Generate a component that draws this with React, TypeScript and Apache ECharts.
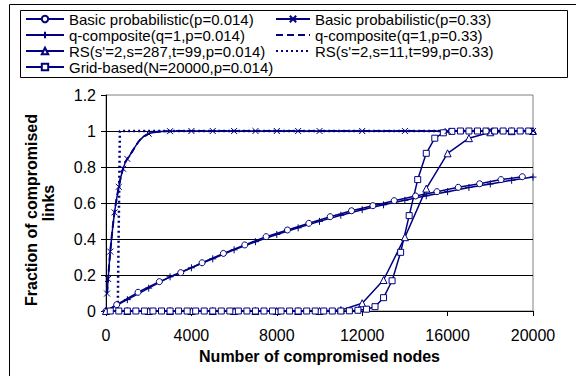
import React, { useEffect, useRef } from "react";
import * as echarts from "echarts";

const NAVY = "#000080";
const FONT = "'Liberation Sans', Arial, Helvetica, sans-serif";

const seriesNames = [
  "Basic probabilistic(p=0.014)",
  "q-composite(q=1,p=0.014)",
  "RS(s'=2,s=287,t=99,p=0.014)",
  "Grid-based(N=20000,p=0.014)",
  "Basic probabilistic(p=0.33)",
  "q-composite(q=1,p=0.33)",
  "RS(s'=2,s=11,t=99,p=0.33)",
];

const xTitle = "Number of compromised nodes";
const yTitleLines = ["Fraction of compromised", "links"];

// Basic probabilistic (p=0.014), circle markers
const basicLowX = [0, 500, 1500, 2500, 3500, 4500, 5500, 6500, 7500, 8500, 9500, 10500, 11500, 12500, 13500, 14500, 15500, 16500, 17500, 18500, 19500];
const basicLowY = [0, 0.035, 0.104, 0.163, 0.213, 0.268, 0.32, 0.367, 0.413, 0.45, 0.487, 0.524, 0.557, 0.585, 0.613, 0.639, 0.663, 0.687, 0.707, 0.73, 0.746];

// q-composite (q=1, p=0.014), plus markers
const qLowX = [0, 1000, 2000, 3000, 4000, 5000, 6000, 7000, 8000, 9000, 10000, 11000, 12000, 13000, 14000, 15000, 16000, 17000, 18000, 19000, 20000];
const qLowY = [0, 0.063, 0.127, 0.19, 0.24, 0.29, 0.34, 0.385, 0.425, 0.462, 0.498, 0.532, 0.563, 0.59, 0.615, 0.64, 0.663, 0.686, 0.706, 0.726, 0.744];

// RS (s'=2, s=287, t=99, p=0.014), triangle markers
const rsLowX = [0, 1000, 2000, 3000, 4000, 5000, 6000, 7000, 8000, 9000, 10000, 11000, 12000, 13000, 14000, 15000, 16000, 17000, 18000, 19000, 20000];
const rsLowY = [0, 0, 0, 0, 0, 0, 0, 0, 0, 0, 0, 0.005, 0.043, 0.172, 0.41, 0.68, 0.876, 0.96, 0.993, 0.999, 1];

// Grid-based (N=20000, p=0.014), square markers
const gridX = [200, 600, 1000, 1400, 1800, 2200, 2600, 3000, 3400, 3800, 4200, 4600, 5000, 5400, 5800, 6200, 6600, 7000, 7400, 7800, 8200, 8600, 9000, 9400, 9800, 10200, 10600, 11000, 11400, 11800, 12200, 12600, 13000, 13400, 13800, 14200, 14600, 15000, 15400, 15800, 16200, 16600, 17000, 17400, 17800, 18200, 18600, 19000, 19400, 19800];
const gridY = [0, 0, 0, 0, 0, 0, 0, 0, 0, 0, 0, 0, 0, 0, 0, 0, 0, 0, 0, 0, 0, 0, 0, 0, 0, 0, 0, 0, 0.001, 0.004, 0.01, 0.024, 0.074, 0.168, 0.326, 0.53, 0.73, 0.876, 0.96, 0.99, 0.998, 1, 1, 1, 1, 1, 1, 1, 1, 1];

// Basic probabilistic (p=0.33), x markers
const basicHighX = [50, 100, 200, 400, 600, 800, 1000, 2000, 3000, 4000, 5000, 6000, 7000, 8000, 9000, 10000, 12000, 14000, 16000, 18000, 20000];
const basicHighY = [0.097, 0.178, 0.33, 0.548, 0.69, 0.79, 0.845, 0.985, 0.999, 1, 1, 1, 1, 1, 1, 1, 1, 1, 1, 1, 1];

// q-composite (q=1, p=0.33), dashed, no markers
const qHighX = [50, 100, 200, 400, 600, 800, 1000, 2000, 3000, 4000, 5000, 6000, 7000, 8000, 9000, 10000, 12000, 14000, 16000, 18000, 20000];
const qHighY = [0.097, 0.178, 0.33, 0.548, 0.69, 0.79, 0.845, 0.985, 0.999, 1, 1, 1, 1, 1, 1, 1, 1, 1, 1, 1, 1];

// RS (s'=2, s=11, t=99, p=0.33), dotted, no markers
const rsHighX = [0, 550, 650, 20000];
const rsHighY = [0, 0, 1, 1];

const zip = (xs: number[], ys: number[]) => xs.map((x, i) => [x, ys[i]]);

const X_SYM = "path://M0 0L10 10M10 0L0 10";
const PLUS_SYM = "path://M5 0L5 10M0 5L10 5";

function markerSeries(name: string, data: number[][], symbol: string, size: number, smooth: number | boolean = false) {
  return {
    name,
    type: "line",
    data,
    symbol,
    symbolSize: size,
    showAllSymbol: true,
    smooth,
    silent: true,
    lineStyle: { color: NAVY, width: 1.5 },
    itemStyle: { color: "#ffffff", borderColor: NAVY, borderWidth: 1 },
  };
}

const noSymbolLegend = (name: string) => ({
  name,
  itemStyle: { color: "rgba(0,0,0,0)", borderColor: "rgba(0,0,0,0)", borderWidth: 0, opacity: 0 },
});

export default function App() {
  const ref = useRef<HTMLDivElement>(null);
  useEffect(() => {
    if (!ref.current) return;
    const chart = echarts.init(ref.current, undefined, { renderer: "svg" });
    const legendCommon = {
      orient: "vertical",
      padding: 0,
      itemGap: 0,
      itemHeight: 8,
      selectedMode: false,
      textStyle: { fontFamily: FONT, fontSize: 15, lineHeight: 16, color: "#000" },
    };
    chart.setOption({
      animation: false,
      backgroundColor: "#ffffff",
      textStyle: { fontFamily: FONT },
      grid: {
        left: 106,
        right: 43,
        top: 95,
        bottom: 65,
        containLabel: false,
        outerBoundsMode: "none",
        show: true,
        borderColor: "#808080",
        borderWidth: 1,
        backgroundColor: "transparent",
      },
      legend: [
        {
          ...legendCommon,
          left: 25,
          top: 11,
          itemWidth: 38,
          data: seriesNames.slice(0, 4),
        },
        {
          ...legendCommon,
          left: 275,
          top: 11,
          itemWidth: 34,
          data: [seriesNames[4], noSymbolLegend(seriesNames[5]), noSymbolLegend(seriesNames[6])],
        },
      ],
      xAxis: {
        type: "value",
        min: 0,
        max: 20000,
        interval: 4000,
        name: xTitle,
        nameLocation: "middle",
        nameGap: 37,
        nameTextStyle: { fontFamily: FONT, fontSize: 16, fontWeight: "bold", color: "#000" },
        axisLine: { show: true, lineStyle: { color: "#000", width: 1 } },
        axisTick: { show: true, inside: false, length: 5, lineStyle: { color: "#000" } },
        axisLabel: {
          fontFamily: FONT,
          fontSize: 16,
          color: "#000",
          margin: 16,
          formatter: (v: number) => String(v),
        },
        splitLine: { show: false },
      },
      yAxis: {
        type: "value",
        min: 0,
        max: 1.2,
        interval: 0.2,
        axisLine: { show: true, lineStyle: { color: "#000", width: 1 } },
        axisTick: { show: true, inside: false, length: 5, lineStyle: { color: "#000" } },
        axisLabel: { fontFamily: FONT, fontSize: 16, color: "#000", margin: 10 },
        splitLine: { show: true, showMaxLine: false, lineStyle: { color: "#000", width: 1 } },
      },
      graphic: [
        {
          type: "rect",
          silent: true,
          shape: { x: 9.5, y: 4.5, width: 700, height: 500 },
          style: { fill: "none", stroke: "#000", lineWidth: 1 },
        },
        {
          type: "rect",
          silent: true,
          shape: { x: 20.5, y: 10.5, width: 547, height: 67 },
          style: { fill: "none", stroke: "#000", lineWidth: 1 },
        },
        {
          type: "text",
          silent: true,
          x: 31,
          y: 210,
          rotation: Math.PI / 2,
          style: {
            text: yTitleLines[0],
            fontFamily: FONT,
            fontSize: 16,
            fontWeight: "bold",
            fill: "#000",
            align: "center",
            verticalAlign: "middle",
          },
        },
        {
          type: "text",
          silent: true,
          x: 48,
          y: 203,
          rotation: Math.PI / 2,
          style: {
            text: yTitleLines[1],
            fontFamily: FONT,
            fontSize: 16,
            fontWeight: "bold",
            fill: "#000",
            align: "center",
            verticalAlign: "middle",
          },
        },
      ],
      series: [
        {
          name: seriesNames[6],
          type: "line",
          data: zip(rsHighX, rsHighY),
          symbol: "none",
          silent: true,
          lineStyle: { color: NAVY, width: 2.5, type: [2, 3] },
          itemStyle: { color: NAVY },
        },
        {
          name: seriesNames[5],
          type: "line",
          data: zip(qHighX, qHighY),
          symbol: "none",
          smooth: 0.4,
          silent: true,
          lineStyle: { color: NAVY, width: 2, type: [7, 4] },
          itemStyle: { color: NAVY },
        },
        markerSeries(seriesNames[0], zip(basicLowX, basicLowY), "circle", 6),
        markerSeries(seriesNames[1], zip(qLowX, qLowY), PLUS_SYM, 7),
        markerSeries(seriesNames[2], zip(rsLowX, rsLowY), "triangle", 7),
        markerSeries(seriesNames[3], zip(gridX, gridY), "rect", 6),
        markerSeries(seriesNames[4], zip(basicHighX, basicHighY), X_SYM, 6, 0.4),
      ],
    });
    return () => chart.dispose();
  }, []);
  return (
    <div
      ref={ref}
      style={{ position: "fixed", left: 0, top: 0, width: 576, height: 376, background: "#fff" }}
    />
  );
}
